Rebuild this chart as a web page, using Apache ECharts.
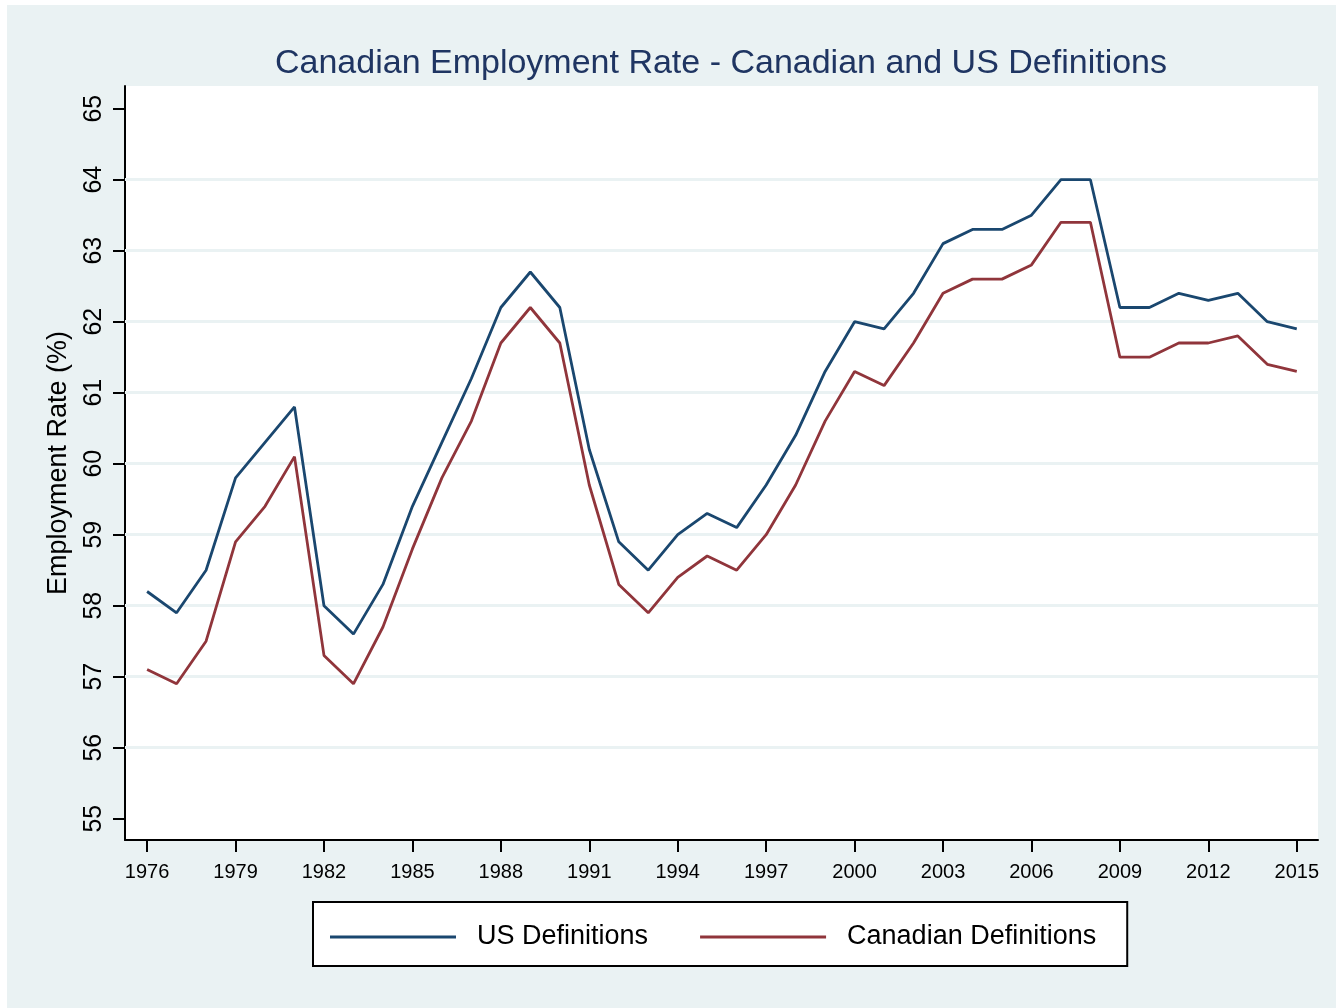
<!DOCTYPE html>
<html>
<head>
<meta charset="utf-8">
<script src="https://cdn.jsdelivr.net/npm/echarts@6/dist/echarts.min.js"></script>
<style>
  html, body { margin: 0; padding: 0; background: #ffffff; }
  #chart { position: absolute; left: 7px; top: 5px; width: 1329px; height: 1003px; }
</style>
</head>
<body>
<div id="chart"></div>
<script>
const years = [1976,1977,1978,1979,1980,1981,1982,1983,1984,1985,1986,1987,1988,1989,1990,1991,1992,1993,1994,1995,1996,1997,1998,1999,2000,2001,2002,2003,2004,2005,2006,2007,2008,2009,2010,2011,2012,2013,2014,2015];
const usDefinitions = [58.2,57.9,58.5,59.8,60.3,60.8,58.0,57.6,58.3,59.4,60.3,61.2,62.2,62.7,62.2,60.2,58.9,58.5,59.0,59.3,59.1,59.7,60.4,61.3,62.0,61.9,62.4,63.1,63.3,63.3,63.5,64.0,64.0,62.2,62.2,62.4,62.3,62.4,62.0,61.9];
const canadianDefinitions = [57.1,56.9,57.5,58.9,59.4,60.1,57.3,56.9,57.7,58.8,59.8,60.6,61.7,62.2,61.7,59.7,58.3,57.9,58.4,58.7,58.5,59.0,59.7,60.6,61.3,61.1,61.7,62.4,62.6,62.6,62.8,63.4,63.4,61.5,61.5,61.7,61.7,61.8,61.4,61.3];
const xTickLabels = [1976,1979,1982,1985,1988,1991,1994,1997,2000,2003,2006,2009,2012,2015];
const yTickLabels = [55,56,57,58,59,60,61,62,63,64,65];
const yGridLines = [56,57,58,59,60,61,62,63,64];

const FONT = 'Liberation Sans, Arial, Helvetica, sans-serif';
const chart = echarts.init(document.getElementById('chart'), null, { renderer: 'canvas' });

const option = {
  backgroundColor: '#eaf2f3',
  animation: false,
  title: {
    text: 'Canadian Employment Rate - Canadian and US Definitions',
    left: 714,
    top: 42,
    textAlign: 'center',
    padding: 0,
    textStyle: { fontFamily: FONT, fontSize: 34, fontWeight: 'normal', color: '#1f3562' }
  },
  legend: {
    left: 306,
    top: 897,
    padding: [20, 31, 14, 17],
    itemGap: 52,
    itemWidth: 126,
    itemHeight: 3,
    icon: 'rect',
    backgroundColor: '#ffffff',
    borderColor: '#000000',
    borderWidth: 2,
    borderRadius: 0,
    textStyle: { fontFamily: FONT, fontSize: 27, color: '#000', padding: [0, 0, 0, 16], lineHeight: 30 },
    data: ['US Definitions', 'Canadian Definitions']
  },
  grid: {
    left: 118,
    right: 18,
    top: 81,
    bottom: 168,
    show: true,
    backgroundColor: '#ffffff',
    borderWidth: 0,
    containLabel: false
  },
  xAxis: {
    type: 'value',
    min: 1975.25,
    max: 2015.72,
    axisLine: { show: true, lineStyle: { color: '#000', width: 2 } },
    axisTick: { show: true, length: 12, customValues: xTickLabels, lineStyle: { color: '#000', width: 2 } },
    axisLabel: { customValues: xTickLabels, fontFamily: FONT, fontSize: 20, color: '#000', margin: 22,
      formatter: v => String(v) },
    splitLine: { show: false }
  },
  yAxis: {
    type: 'value',
    min: 54.7,
    max: 65.32,
    name: 'Employment Rate (%)',
    nameLocation: 'middle',
    nameGap: 53,
    nameTextStyle: { fontFamily: FONT, fontSize: 27, color: '#000' },
    axisLine: { show: true, lineStyle: { color: '#000', width: 2 } },
    axisTick: { show: true, length: 12, customValues: yTickLabels, lineStyle: { color: '#000', width: 2 } },
    axisLabel: { customValues: yTickLabels, rotate: 90, fontFamily: FONT, fontSize: 25, color: '#000', margin: 18 },
    splitLine: { show: false }
  },
  series: [
    {
      name: 'grid',
      type: 'line',
      data: [],
      z: 1,
      silent: true,
      markLine: {
        silent: true,
        z: 1,
        symbol: ['none', 'none'],
        label: { show: false },
        lineStyle: { color: '#eaf2f3', width: 3, type: 'solid' },
        emphasis: { disabled: true },
        data: yGridLines.map(v => ({ yAxis: v }))
      }
    },
    {
      name: 'US Definitions',
      type: 'line',
      z: 3,
      showSymbol: false,
      symbol: 'none',
      color: '#1a476f',
      lineStyle: { color: '#1a476f', width: 2.8 },
      data: years.map((y, i) => [y, usDefinitions[i]])
    },
    {
      name: 'Canadian Definitions',
      type: 'line',
      z: 3,
      showSymbol: false,
      symbol: 'none',
      color: '#90353b',
      lineStyle: { color: '#90353b', width: 2.8 },
      data: years.map((y, i) => [y, canadianDefinitions[i]])
    }
  ]
};
chart.setOption(option);
</script>
</body>
</html>
